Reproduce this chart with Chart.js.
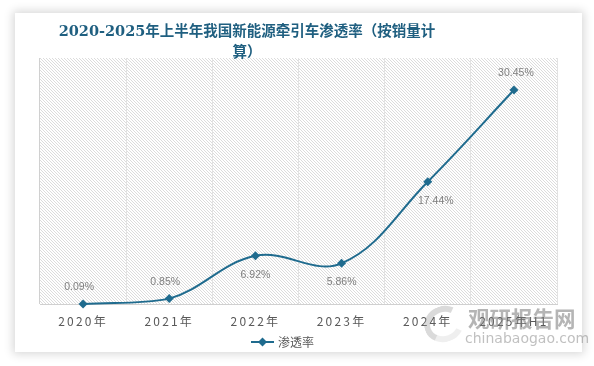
<!DOCTYPE html>
<html><head><meta charset="utf-8">
<script src="https://cdn.jsdelivr.net/npm/chart.js@4.4.1/dist/chart.umd.min.js"></script>
<style>
html,body{margin:0;padding:0;background:#fff;width:594px;height:366px;overflow:hidden}
#card{position:absolute;left:15px;top:13px;width:567px;height:339px;background:#fff;box-shadow:0 0 9px 2px rgba(0,0,0,0.16)}
#wrap{position:absolute;left:0;top:0;width:594px;height:366px}
#title{position:absolute;left:40px;top:20px;width:414px;text-align:center;font-weight:bold;font-size:14.5px;font-family:"DejaVu Serif","Noto Sans CJK SC",serif;line-height:21px;color:#1f5f80}
#wm1{position:absolute;left:468px;top:305px;font:bold 21.5px "Noto Sans CJK SC",sans-serif;color:rgba(120,120,120,0.55);letter-spacing:0px;line-height:26px}
#wm2{position:absolute;left:465px;top:329px;font:14px "DejaVu Sans",sans-serif;color:rgba(130,130,130,0.5);line-height:18px;letter-spacing:0px}
#logo{position:absolute;left:424px;top:306px;width:28px;height:24px;border-radius:50%;border:6px solid rgba(150,150,150,0.35);border-right-color:transparent;border-bottom-color:rgba(150,150,150,0.15);transform:rotate(-20deg)}
</style></head>
<body>
<div id="card"></div>
<div id="wrap"><canvas id="c" width="594" height="366"></canvas></div>
<div id="title">2020-2025年上半年我国新能源牵引车渗透率（按销量计<br>算）</div>
<div id="logo"></div>
<div id="wm1">观研报告网</div>
<div id="wm2">chinabaogao.com</div>
<script>
const categories = ['2020年','2021年','2022年','2023年','2024年','2025年H1'];
const penetration = [0.09, 0.85, 6.92, 5.86, 17.44, 30.45];
const seriesName = '渗透率';
const yMin = 0, yMax = 35;

const lineColor = '#1f6b8e';
const labelSide = ['above','above','below','below','below','above'];
const labelShiftX = [-4,-4,0,0,8,2];

function makePattern(ctx){
  const p = document.createElement('canvas');
  p.width = 3; p.height = 3;
  const pc = p.getContext('2d');
  pc.fillStyle = '#ffffff'; pc.fillRect(0,0,3,3);
  pc.fillStyle = '#dcdcdc';
  for (let i=0;i<3;i++) pc.fillRect(i,i,1,1);
  return ctx.createPattern(p,'repeat');
}

const decorPlugin = {
  id:'decor',
  beforeDraw(chart){
    const {ctx, chartArea:a} = chart;
    ctx.save();
    ctx.fillStyle = makePattern(ctx);
    ctx.fillRect(a.left, a.top, a.right-a.left, a.bottom-a.top);
    ctx.restore();
    ctx.letterSpacing = '2.2px';
  },
  beforeDatasetsDraw(chart){ chart.ctx.letterSpacing = '0px'; },
  afterDatasetsDraw(chart){
    const ctx = chart.ctx;
    const meta = chart.getDatasetMeta(0);
    const vals = chart.data.datasets[0].data;
    ctx.save();
    ctx.font = '10.5px "Liberation Sans", Arial, sans-serif';
    ctx.fillStyle = '#7f7f7f';
    ctx.textAlign = 'center';
    ctx.textBaseline = 'middle';
    meta.data.forEach((el,i)=>{
      const dy = labelSide[i]==='above' ? -17 : 19;
      ctx.fillText(vals[i].toFixed(2)+'%', el.x + labelShiftX[i], el.y+dy);
    });
    ctx.restore();
  },
  afterDraw(chart){
    const ctx = chart.ctx;
    const ds = chart.data.datasets[0];
    const y = 342;
    ctx.save();
    ctx.strokeStyle = ds.borderColor; ctx.lineWidth = 2;
    ctx.beginPath(); ctx.moveTo(251,y); ctx.lineTo(274,y); ctx.stroke();
    ctx.fillStyle = ds.borderColor;
    ctx.beginPath(); ctx.moveTo(262.5,y-4.5); ctx.lineTo(267,y); ctx.lineTo(262.5,y+4.5); ctx.lineTo(258,y); ctx.closePath(); ctx.fill();
    ctx.font = '12px "Noto Sans CJK SC", sans-serif';
    ctx.fillStyle = '#595959';
    ctx.textAlign = 'left'; ctx.textBaseline = 'middle';
    ctx.fillText(ds.label, 278, y);
    ctx.restore();
  }
};

new Chart(document.getElementById('c'), {
  type:'line',
  data:{
    labels:categories,
    datasets:[{
      label:seriesName,
      data:penetration,
      borderColor:lineColor,
      backgroundColor:lineColor,
      borderWidth:2,
      tension:0.38,
      pointStyle:'rectRot',
      pointRadius:4.5,
      pointHoverRadius:4.5,
      pointBackgroundColor:lineColor,
      pointBorderWidth:0,
      clip:false
    }]
  },
  options:{
    responsive:false,
    animation:false,
    devicePixelRatio:1,
    layout:{padding:{left:40,right:37,top:58,bottom:27}},
    plugins:{legend:{display:false},title:{display:false},tooltip:{enabled:false}},
    scales:{
      x:{
        offset:true,
        grid:{offset:true,drawTicks:false,lineWidth:1,
          color:(c)=> c.index===0 ? '#d0d0d0' : (c.index>=categories.length ? 'rgba(0,0,0,0)' : '#e2e2e2')},
        border:{display:true,color:'#d0d0d0',width:1},
        ticks:{color:'#595959',font:{size:12,family:'"Noto Sans CJK SC", sans-serif'},padding:10,maxRotation:0,autoSkip:false}
      },
      y:{display:false,min:yMin,max:yMax}
    }
  },
  plugins:[decorPlugin]
});
</script>
</body></html>
